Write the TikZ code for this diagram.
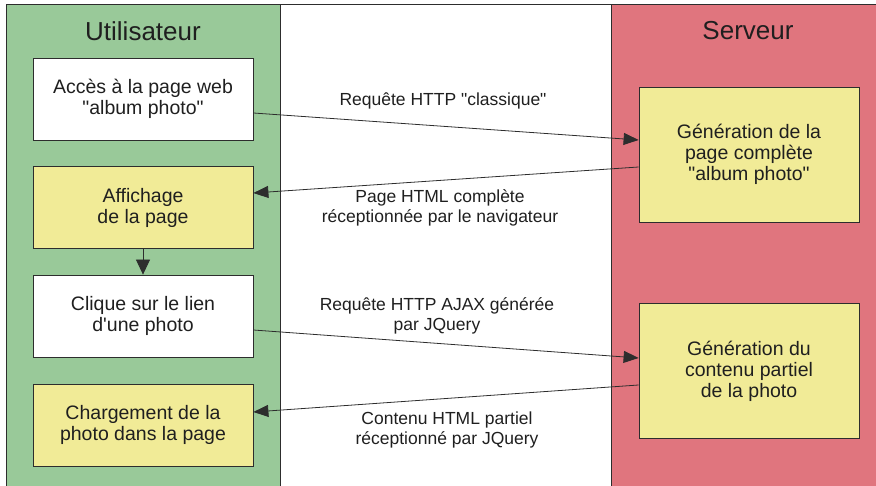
\documentclass[tikz,border=0pt]{standalone}
\usepackage{fontspec}
\setmainfont{Liberation Sans}
\usepackage{tikz}
\usetikzlibrary{arrows.meta,positioning,calc}

\definecolor{userGreen}{RGB}{153,201,153}
\definecolor{serverRed}{RGB}{224,117,126}
\definecolor{stepYellow}{RGB}{241,235,151}
\definecolor{lineGray}{RGB}{45,45,45}
\newcommand{\qq}[1]{\textquotedbl#1\textquotedbl}

\begin{document}
\begin{tikzpicture}[
    x=1pt, y=-1pt,
    text=black!88,
    panel/.style={draw=lineGray, line width=0.8pt},
    title/.style={font=\fontsize{26}{30}\selectfont},
    stepbox/.style={draw=lineGray, line width=0.8pt, fill=white, align=center,
        minimum width=220pt, minimum height=82pt, inner sep=0pt,
        font=\fontsize{19.5}{21}\selectfont},
    action/.style={stepbox, fill=stepYellow},
    server/.style={stepbox, fill=stepYellow, minimum height=135pt},
    msg/.style={align=center, font=\fontsize{17.5}{20}\selectfont},
    arrow/.style={-{Triangle[length=15pt, width=12pt]}, line width=0.8pt, draw=lineGray}
]
\useasboundingbox (0,0) rectangle (876,486);

% Panels
\draw[panel, fill=userGreen] (6,4) rectangle (280,492);
\draw[panel, fill=serverRed] (611,4) rectangle (882,492);
\draw[panel] (6,4) rectangle (882,492);

% Titles
\node[title] (user) at (143,31) {Utilisateur};
\node[title] (srv) at (748,31) {Serveur};

% Client side
\node[stepbox] (acces) at (143,99) {Accès à la page web\\\qq{album photo}};
\node[action] (affichage) at (143,207.5) {Affichage\\de la page};
\node[stepbox] (clique) at (143,316) {Clique sur le lien\\d\textquotesingle une photo};
\node[action] (chargement) at (143,425) {Chargement de la\\photo dans la page};

% Server side
\node[server] (genpage) at (749,154.5) {Génération de la\\page complète\\\qq{album photo}};
\node[server] (gencontenu) at (749,371) {Génération du\\contenu partiel\\de la photo};

% Edges
\draw[arrow] ([yshift=-14pt]acces.east) -- ([yshift=14.5pt]genpage.west);
\draw[arrow] ([yshift=-12.5pt]genpage.west) -- ([yshift=14.5pt]affichage.east);
\draw[arrow, -{Triangle[length=15pt, width=14pt]}] (affichage) -- (clique);
\draw[arrow] ([yshift=-14pt]clique.east) -- ([yshift=13pt]gencontenu.west);
\draw[arrow] ([yshift=-14pt]gencontenu.west) -- ([yshift=13pt]chargement.east);

% Messages
\node[msg] (req1) at (443,101) {Requête HTTP \qq{classique}};
\node[msg] (rep1) at (440,208) {Page HTML complète\\réceptionnée par le navigateur};
\node[msg] (req2) at (437,316) {Requête HTTP AJAX générée\\par JQuery};
\node[msg] (rep2) at (447,429.5) {Contenu HTML partiel\\réceptionné par JQuery};
\end{tikzpicture}
\end{document}
